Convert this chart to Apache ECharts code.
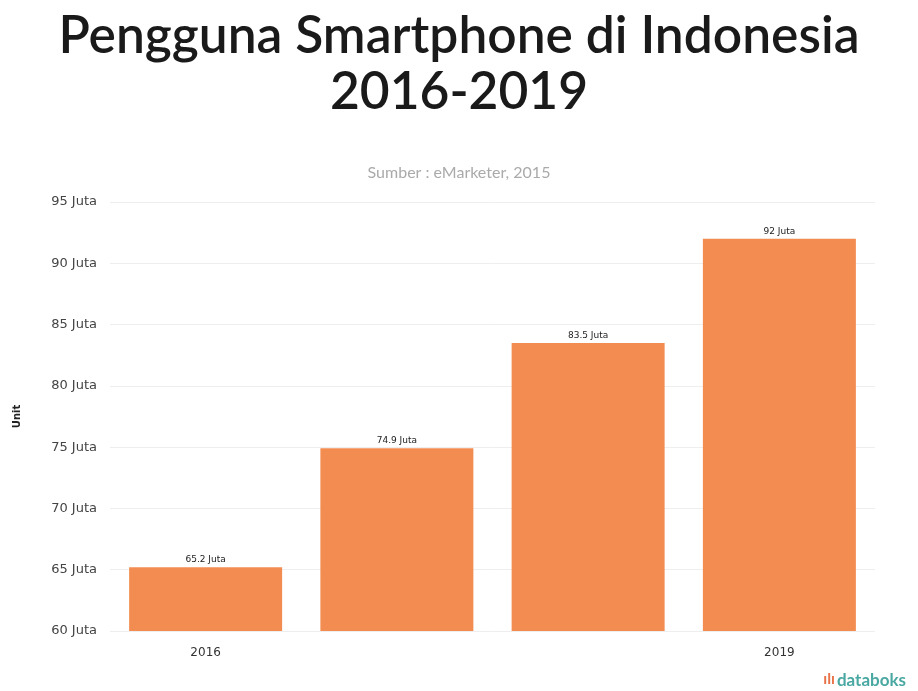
<!DOCTYPE html>
<html>
<head>
<meta charset="utf-8">
<script src="https://cdn.jsdelivr.net/npm/echarts@6/dist/echarts.min.js"></script>
<style>
  html, body { margin: 0; padding: 0; background: #fff; }
  #chart { width: 918px; height: 691px; }
</style>
</head>
<body>
<div id="chart"></div>
<script>
const years = ['2016', '2017', '2018', '2019']
const users = [65.2, 74.9, 83.5, 92]
const shownYears = ['2016', '2019']

const chart = echarts.init(document.getElementById('chart'))

const option = {
  backgroundColor: '#fff',
  title: [
    {
      text: 'Pengguna Smartphone di Indonesia\n2016-2019',
      left: 'center',
      top: 3,
      textStyle: {
        fontFamily: 'Lato',
        fontWeight: 600,
        fontSize: 51.5,
        lineHeight: 56,
        color: '#1a1a1a'
      }
    },
    {
      text: 'Sumber : eMarketer, 2015',
      left: 'center',
      top: 160,
      textStyle: {
        fontFamily: 'Lato',
        fontWeight: 'normal',
        fontSize: 16,
        color: '#aaa'
      }
    }
  ],
  grid: {
    left: 110,
    right: 43,
    top: 202,
    bottom: 60
  },
  xAxis: {
    type: 'category',
    data: years,
    axisLine: { show: false },
    axisTick: { show: false },
    axisLabel: {
      margin: 16,
      fontFamily: 'DejaVu Sans',
      fontSize: 12,
      color: '#333',
      interval: (i, v) => shownYears.includes(v)
    }
  },
  yAxis: {
    type: 'value',
    min: 60,
    max: 95,
    interval: 5,
    name: 'Unit',
    nameLocation: 'middle',
    nameGap: 88,
    nameTextStyle: {
      fontFamily: 'DejaVu Sans',
      fontWeight: 'bold',
      fontSize: 10,
      color: '#222'
    },
    axisLabel: {
      margin: 13,
      fontFamily: 'DejaVu Sans',
      fontSize: 13,
      color: '#444',
      formatter: v => v + ' Juta'
    },
    splitLine: { lineStyle: { color: '#eee' } }
  },
  series: [
    {
      type: 'bar',
      data: users,
      barCategoryGap: '20%',
      itemStyle: { color: '#F28C50' },
      label: {
        show: true,
        position: 'top',
        distance: 3,
        fontFamily: 'DejaVu Sans',
        fontSize: 9,
        color: '#222',
        formatter: p => p.value + ' Juta'
      }
    }
  ],
  graphic: [
    {
      type: 'text',
      right: 12,
      bottom: 2,
      style: {
        text: '{i|ılı}{t|databoks}',
        rich: {
          i: { fontSize: 14, fill: '#e8734a', fontWeight: 'bold', padding: [0, 2, 0, 0] },
          t: { fontFamily: 'Lato', fontSize: 17, fontWeight: 'bold', fill: '#4aa8a2' }
        }
      }
    }
  ]
}

chart.setOption(option)
window.addEventListener('resize', () => chart.resize())
</script>
</body>
</html>
